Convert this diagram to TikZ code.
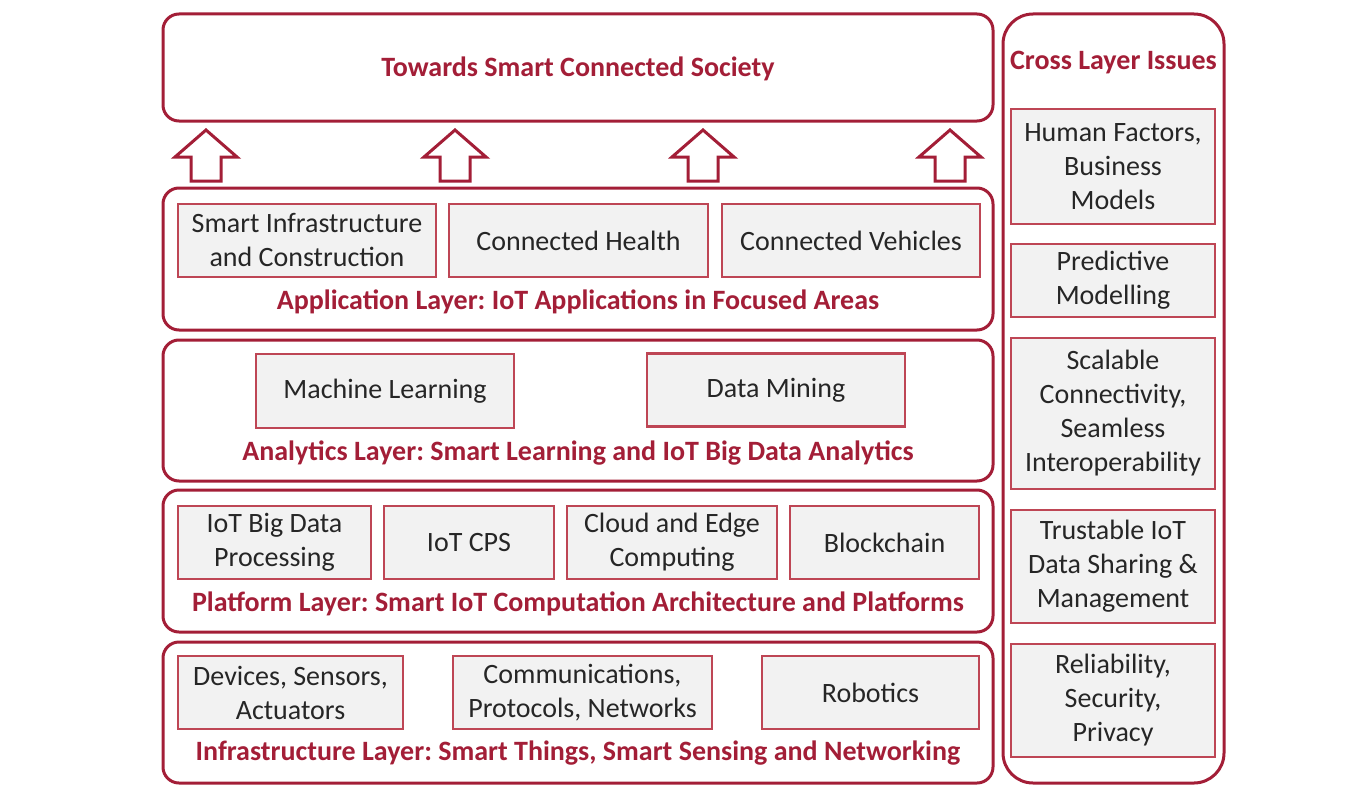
\documentclass[tikz,border=0pt]{standalone}
\usepackage{fontspec}
\setmainfont{Carlito}
\frenchspacing
\definecolor{darkred}{RGB}{163,30,55}
\definecolor{itemred}{RGB}{190,70,85}
\definecolor{itemfill}{RGB}{242,242,242}
\definecolor{itemtext}{RGB}{38,38,38}
\tikzset{
  layer/.style={draw=darkred,line width=3pt,rounded corners=16pt,minimum width=830pt,inner sep=0pt},
  item/.style={draw=itemred,line width=2.5pt,fill=itemfill,text=itemtext,align=center,
    minimum height=73pt,inner sep=0pt,font=\fontsize{28}{34}\selectfont},
  layerlabel/.style={text=darkred,font=\bfseries\fontsize{28}{32}\selectfont},
  uparrow/.style={draw=darkred,line width=3pt,fill=white,line join=miter}
}
\begin{document}
\begin{tikzpicture}[x=1pt,y=-1pt]
	\useasboundingbox (0,0) rectangle (1370,800);
	
	% top goal
	\node[layer,minimum height=107pt](society) at (578,67.5){};
	\node[layerlabel](societytext) at (578,69){Towards Smart Connected Society};
	
	% up arrows
	\foreach \ax in {206,455,703,950}
	  \draw[uparrow](\ax-15,181)--(\ax-15,157)--(\ax-31,157)--(\ax,130)--(\ax+31,157)--(\ax+15,157)--(\ax+15,181)--cycle;
	
	% application layer
	\node[layer,minimum height=142pt](app) at (578,259){};
	\node[item,minimum width=258pt](infra) at (307,240.5){Smart Infrastructure\\and Construction};
	\node[item,minimum width=259pt](health) at (578.5,240.5){Connected Health};
	\node[item,minimum width=258pt](vehicles) at (851,240.5){Connected Vehicles};
	\node[layerlabel](applabel) at (578,302){Application Layer: IoT Applications in Focused Areas};
	
	% analytics layer
	\node[layer,minimum height=141pt](analytics) at (578,410.5){};
	\node[item,minimum width=258pt,minimum height=74pt](ml) at (385,391){Machine Learning};
	\node[item,minimum width=258pt](dm) at (776,390){Data Mining};
	\node[layerlabel](analyticslabel) at (578,453){Analytics Layer: Smart Learning and IoT Big Data Analytics};
	
	% platform layer
	\node[layer,minimum height=142pt](platform) at (578,561){};
	\node[item,minimum width=193pt](bigdata) at (274.5,542.5){IoT Big Data\\Processing};
	\node[item,minimum width=170pt](cps) at (469,542.5){IoT CPS};
	\node[item,minimum width=210pt](cloud) at (672,542.5){Cloud and Edge\\Computing};
	\node[item,minimum width=189pt](chain) at (884.5,542.5){Blockchain};
	\node[layerlabel](platformlabel) at (578,604){Platform Layer: Smart IoT Computation Architecture and Platforms};
	
	% infrastructure layer
	\node[layer,minimum height=141pt](infrastructure) at (578,712.5){};
	\node[item,minimum width=225pt](devices) at (290.5,692.5){Devices, Sensors,\\Actuators};
	\node[item,minimum width=259pt](comms) at (582.5,692.5){Communications,\\Protocols, Networks};
	\node[item,minimum width=217pt](robots) at (870.5,692.5){Robotics};
	\node[layerlabel](infralabel) at (578,753){Infrastructure Layer: Smart Things, Smart Sensing and Networking};
	
	% cross layer issues
	\node[layer,rounded corners=30pt,minimum width=221pt,minimum height=769pt](cross) at (1113.5,398.5){};
	\node[layerlabel](crosstext) at (1113.5,63){Cross Layer Issues};
	\node[item,minimum width=204pt,minimum height=115pt](human) at (1113,166.5){Human Factors,\\Business\\Models};
	\node[item,minimum width=204pt](predict) at (1113,280.5){Predictive\\Modelling};
	\node[item,minimum width=204pt,minimum height=151pt](scale) at (1113,413.5){Scalable\\Connectivity,\\Seamless\\Interoperability};
	\node[item,minimum width=204pt,minimum height=113pt](trust) at (1113,566.5){Trustable IoT\\Data Sharing \&\\Management};
	\node[item,minimum width=204pt,minimum height=113pt](secure) at (1113,700.5){Reliability,\\Security,\\Privacy};
	
\end{tikzpicture}
\end{document}
